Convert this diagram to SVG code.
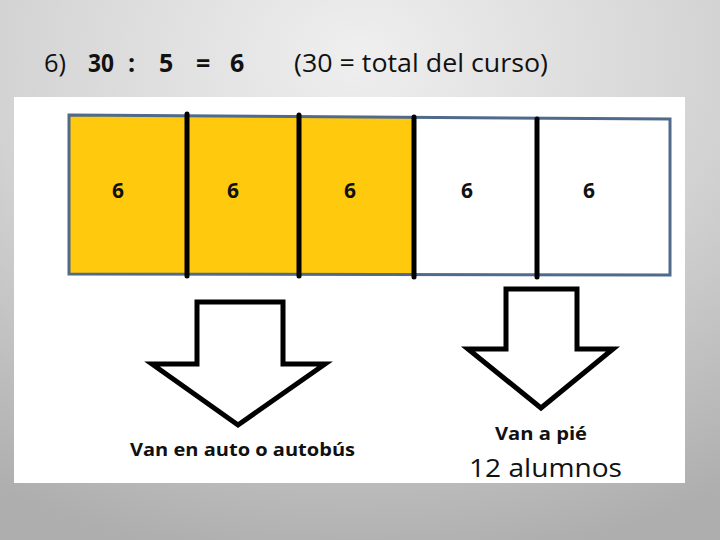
<svg xmlns="http://www.w3.org/2000/svg" width="720" height="540" viewBox="0 0 720 540">
  <defs>
    <radialGradient id="bg" cx="50%" cy="10%" r="95%" fx="50%" fy="10%">
      <stop offset="0" stop-color="#efefef"/>
      <stop offset="0.55" stop-color="#d2d2d2"/>
      <stop offset="1" stop-color="#aeaeae"/>
    </radialGradient>
  </defs>
  <style>
    .t { font-family: "Open Sans", "Liberation Sans", sans-serif; fill: #111; }
    .b { font-weight: bold; }
    .num { font-family: "Open Sans", "Liberation Sans", sans-serif; font-weight: bold; font-size: 21px; fill: #111; text-anchor: middle; }
    .div { stroke: #000; stroke-width: 5; stroke-linecap: round; }
    .arrow { fill: #fff; stroke: #000; stroke-width: 5; stroke-linejoin: miter; }
  </style>
  <rect x="0" y="0" width="720" height="540" fill="url(#bg)"/>

  <g id="title">
    <text class="t" x="44" y="72" font-size="25" textLength="22" lengthAdjust="spacingAndGlyphs">6)</text>
    <text class="t b" x="88" y="72" font-size="25" textLength="26" lengthAdjust="spacingAndGlyphs">30</text>
    <text class="t b" x="128" y="72" font-size="25">:</text>
    <text class="t b" x="159" y="72" font-size="25">5</text>
    <text class="t b" x="196" y="72" font-size="25">=</text>
    <text class="t b" x="230" y="72" font-size="25">6</text>
    <text class="t" x="294" y="72" font-size="25" textLength="254" lengthAdjust="spacingAndGlyphs">(30 = total del curso)</text>
  </g>

  <rect id="panel" x="14" y="97" width="671" height="386" fill="#fff"/>

  <g id="bar">
    <polygon points="69,115 670,119 670,275 69,274" fill="#fff"/>
    <polygon points="69,115 414,117 414,275 69,274" fill="#ffc90e"/>
    <polygon points="69,115 670,119 670,275 69,274" fill="none" stroke="#4f6a8a" stroke-width="3"/>
    <line class="div" x1="187" y1="114" x2="187" y2="276"/>
    <line class="div" x1="299" y1="115" x2="299" y2="276"/>
    <line class="div" x1="414" y1="117" x2="414" y2="277"/>
    <line class="div" x1="537" y1="119" x2="537" y2="277"/>
    <text class="num" x="118" y="198">6</text>
    <text class="num" x="233" y="198">6</text>
    <text class="num" x="350" y="198">6</text>
    <text class="num" x="467" y="198">6</text>
    <text class="num" x="589" y="198">6</text>
  </g>

  <g id="connectors">
    <polygon class="arrow" points="197,302 283,302 283,364 325,364 238,425 152,364 197,364"/>
    <polygon class="arrow" points="506,289 577,289 577,349 613,349 541,408 468,349 506,349"/>
  </g>

  <g id="label-auto">
    <text class="t b" x="130" y="456" font-size="18" textLength="225" lengthAdjust="spacingAndGlyphs">Van en auto o autobús</text>
  </g>
  <g id="label-pie">
    <text class="t b" x="495" y="440" font-size="18" fill="#1a1a2a" textLength="92" lengthAdjust="spacingAndGlyphs">Van a pié</text>
    <text class="t" x="469" y="477" font-size="26" textLength="153" lengthAdjust="spacingAndGlyphs">12 alumnos</text>
  </g>
</svg>
